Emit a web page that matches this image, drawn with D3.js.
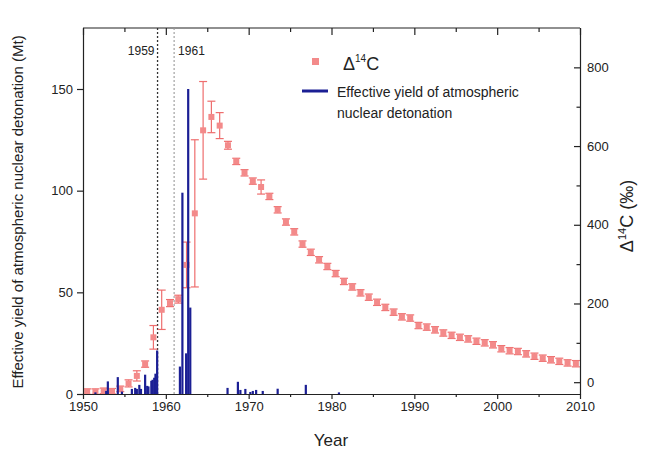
<!DOCTYPE html>
<html>
<head>
<meta charset="utf-8">
<script src="https://cdn.jsdelivr.net/npm/d3@7"></script>
<style>
  html, body { margin: 0; padding: 0; background: #fff; }
  svg { display: block; font-family: "Liberation Sans", Arial, sans-serif; }
</style>
</head>
<body>
<svg id="chart" width="645" height="453"></svg>
<script>
// ---------------- data ----------------
const barYears  = [1951.5, 1952.8, 1953.0, 1954.2, 1954.7, 1955.9, 1956.3, 1956.5, 1956.8, 1957.0,
                   1957.5, 1957.75, 1957.9, 1958.25, 1958.4, 1958.6, 1958.75, 1958.95, 1961.7, 1962.0,
                   1962.45, 1962.7, 1962.95, 1967.45, 1968.7, 1969.0, 1969.6, 1970.2, 1970.5, 1970.9,
                   1971.7, 1973.5, 1976.9, 1980.9];
const barYields = [0.8, 1.5, 6.2, 8.3, 1.2, 2.5, 3.0, 2.5, 4.5, 2.5,
                   9.5, 4.0, 3.7, 6.5, 7.0, 8.0, 10.0, 21.4, 13.5, 99,
                   20, 150, 42.5, 3.0, 6.0, 2.0, 2.5, 1.0, 1.5, 2.0,
                   1.5, 2.6, 4.5, 0.8];

const c14Years = d3.range(1950.5, 2010, 1);
const c14Values = [-24, -24, -22, -23, -17, -3, 16, 46, 114, 184,
                   201, 211, 298, 429, 640, 674, 652, 602, 561, 532,
                   511, 496, 472, 438, 407, 382, 351, 330, 311, 294,
                   276, 256, 242, 227, 216, 203, 190, 178, 166, 163,
                   144, 140, 133, 125, 119, 114, 110, 104, 100, 95,
                   85, 80, 78, 72, 66, 61, 57, 53, 49, 47];
const c14Errors = [7, 7, 7, 7, 7, 9, 13, 8, 30, 50,
                   9, 10, 58, 187, 124, 40, 33, 10, 8, 8,
                   8, 18, 8, 8, 8, 8, 8, 8, 8, 8,
                   8, 8, 8, 8, 8, 8, 8, 8, 8, 8,
                   8, 8, 8, 8, 8, 8, 8, 8, 8, 8,
                   8, 8, 8, 8, 8, 8, 8, 8, 8, 8];

const markerYears  = [1959, 1961];
const markerLabels = ["1959", "1961"];

const xTicks = [1950, 1960, 1970, 1980, 1990, 2000, 2010];
const xMinor = [1955, 1965, 1975, 1985, 1995, 2005];
const yLeftTicks = [0, 50, 100, 150];
const yRightTicks = [0, 200, 400, 600, 800];
const yRightMinor = [100, 300, 500, 700];

// ---------------- layout ----------------
const svg = d3.select("#chart");
const L = 83, R = 580, T = 28, B = 394;

const x  = d3.scaleLinear().domain([1950, 2010]).range([L, R]);
const yL = d3.scaleLinear().domain([0, 180]).range([B, T]);
const yR = d3.scaleLinear().domain([-30, 900]).range([B, T]);

const barColor = "#1b1f94";
const ptFill = "#f38a8a";
const ptStroke = "#ee6e6e";

// frame top line
svg.append("line").attr("x1", L).attr("x2", R).attr("y1", T).attr("y2", T)
  .attr("stroke", "#222").attr("stroke-width", 1.2);

// vertical dotted lines
markerYears.forEach((yr, i) => {
  svg.append("line")
    .attr("x1", x(yr)).attr("x2", x(yr)).attr("y1", T).attr("y2", B)
    .attr("stroke", i === 0 ? "#333" : "#999")
    .attr("stroke-width", i === 0 ? 1.3 : 1.1)
    .attr("stroke-dasharray", "2,2");
  svg.append("text")
    .attr("x", i === 0 ? x(yr) - 3 : x(yr) + 4)
    .attr("y", 55)
    .attr("text-anchor", i === 0 ? "end" : "start")
    .attr("font-size", 12).attr("fill", "#222")
    .text(markerLabels[i]);
});

// error bars + points
const pts = svg.append("g");
c14Years.forEach((yr, i) => {
  const cx = x(yr), v = c14Values[i], e = c14Errors[i];
  pts.append("line").attr("x1", cx).attr("x2", cx)
    .attr("y1", yR(v + e)).attr("y2", yR(v - e))
    .attr("stroke", ptStroke).attr("stroke-width", 1.2);
  [v + e, v - e].forEach(ev => {
    pts.append("line").attr("x1", cx - 4).attr("x2", cx + 4)
      .attr("y1", yR(ev)).attr("y2", yR(ev))
      .attr("stroke", ptStroke).attr("stroke-width", 1.2);
  });
});
pts.selectAll("rect.pt").data(c14Years).join("rect").attr("class", "pt")
  .attr("x", d => x(d) - 3)
  .attr("y", (d, i) => yR(c14Values[i]) - 3)
  .attr("width", 6).attr("height", 6)
  .attr("fill", ptFill);

// bars
svg.append("g").selectAll("rect").data(barYears).join("rect")
  .attr("x", d => x(d) - 1.1)
  .attr("width", 2.2)
  .attr("y", (d, i) => yL(barYields[i]))
  .attr("height", (d, i) => yL(0) - yL(barYields[i]))
  .attr("fill", barColor);

// ---------------- axes ----------------
function styleAxis(g) {
  g.selectAll("path.domain").attr("stroke", "#222").attr("stroke-width", 1.2);
  g.selectAll(".tick line").attr("stroke", "#222").attr("stroke-width", 1.2);
  g.selectAll("text").attr("font-size", 13).attr("fill", "#222")
    .attr("font-family", "Liberation Sans, Arial, sans-serif");
}

// bottom
const gx = svg.append("g").attr("transform", `translate(0,${B})`)
  .call(d3.axisBottom(x).tickValues(xTicks).tickFormat(d3.format("d")).tickSize(5).tickSizeOuter(0).tickPadding(3));
styleAxis(gx);
svg.append("g").attr("transform", `translate(0,${B})`)
  .call(d3.axisBottom(x).tickValues(xMinor).tickFormat("").tickSize(3).tickSizeOuter(0))
  .call(g => { g.select(".domain").remove(); styleAxis(g); });

// top (inward ticks)
svg.append("g").attr("transform", `translate(0,${T})`)
  .call(d3.axisBottom(x).tickValues(xTicks).tickFormat("").tickSize(7).tickSizeOuter(0))
  .call(g => { g.select(".domain").remove(); styleAxis(g); });
svg.append("g").attr("transform", `translate(0,${T})`)
  .call(d3.axisBottom(x).tickValues(xMinor).tickFormat("").tickSize(4).tickSizeOuter(0))
  .call(g => { g.select(".domain").remove(); styleAxis(g); });

// left
const gyl = svg.append("g").attr("transform", `translate(${L},0)`)
  .call(d3.axisLeft(yL).tickValues(yLeftTicks).tickSize(6).tickSizeOuter(0).tickPadding(4));
styleAxis(gyl);

// right (inward ticks, labels outside)
const gyr = svg.append("g").attr("transform", `translate(${R},0)`)
  .call(d3.axisRight(yR).tickValues(yRightTicks).tickSize(-6).tickSizeOuter(0).tickPadding(7));
styleAxis(gyr);
svg.append("g").attr("transform", `translate(${R},0)`)
  .call(d3.axisRight(yR).tickValues(yRightMinor).tickFormat("").tickSize(-3.5).tickSizeOuter(0))
  .call(g => { g.select(".domain").remove(); styleAxis(g); });

// ---------------- titles ----------------
svg.append("text").attr("x", 331).attr("y", 446).attr("text-anchor", "middle")
  .attr("font-size", 17).attr("fill", "#222").text("Year");

svg.append("text")
  .attr("transform", "translate(23,212) rotate(-90)")
  .attr("text-anchor", "middle").attr("font-size", 15).attr("fill", "#222")
  .text("Effective yield of atmospheric nuclear detonation (Mt)");

const rt = svg.append("text")
  .attr("transform", "translate(633,216) rotate(-90)")
  .attr("text-anchor", "middle").attr("font-size", 18).attr("fill", "#222");
rt.append("tspan").text("Δ");
rt.append("tspan").attr("font-size", 11).attr("dy", -7).text("14");
rt.append("tspan").attr("dy", 7).text("C (‰)");

// ---------------- legend ----------------
const lg = svg.append("g");
lg.append("rect").attr("x", 312).attr("y", 58).attr("width", 7).attr("height", 7).attr("fill", ptFill);
const lt = lg.append("text").attr("x", 343).attr("y", 70).attr("font-size", 18).attr("fill", "#222");
lt.append("tspan").text("Δ");
lt.append("tspan").attr("font-size", 10).attr("dy", -8).text("14");
lt.append("tspan").attr("dy", 8).text("C");

lg.append("line").attr("x1", 302).attr("x2", 328).attr("y1", 91).attr("y2", 91)
  .attr("stroke", barColor).attr("stroke-width", 3);
lg.append("text").attr("x", 337).attr("y", 97).attr("font-size", 14).attr("fill", "#222")
  .text("Effective yield of atmospheric");
lg.append("text").attr("x", 337).attr("y", 118).attr("font-size", 14).attr("fill", "#222")
  .text("nuclear detonation");
</script>
</body>
</html>
